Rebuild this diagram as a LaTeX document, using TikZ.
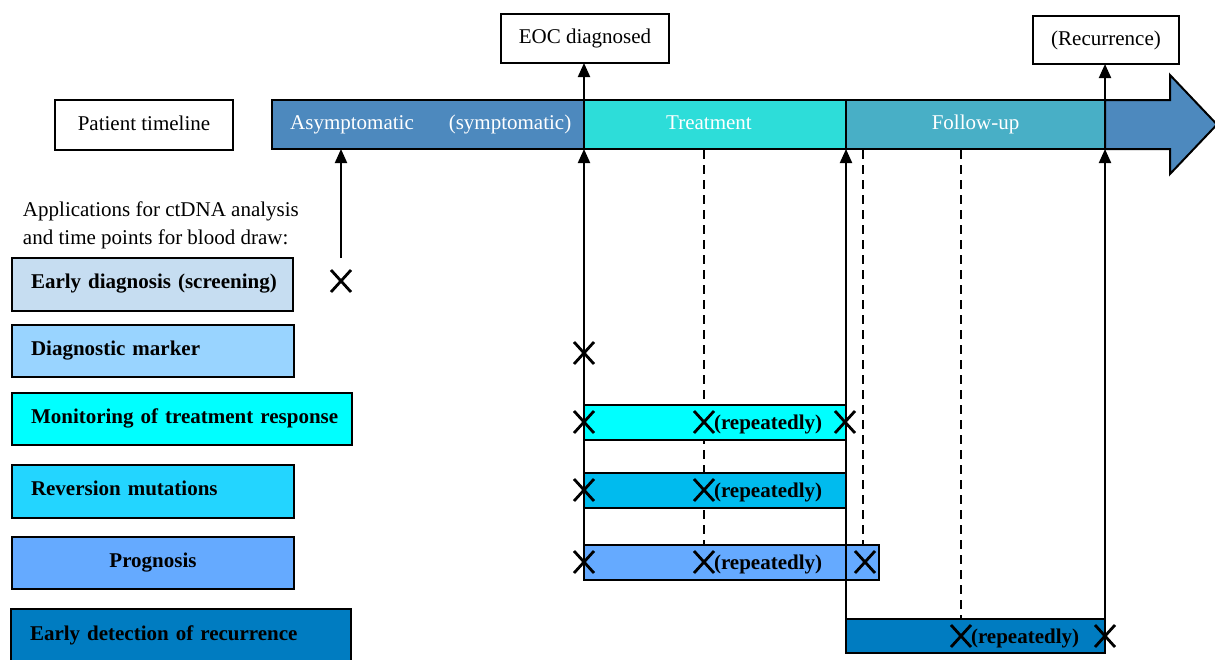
\documentclass[tikz,border=0pt]{standalone}
\usepackage{fontspec}
\setmainfont{Liberation Serif}
\usetikzlibrary{shapes.misc,arrows.meta,calc}
\definecolor{asymc}{HTML}{4D89BE}
\definecolor{treatc}{HTML}{2DDDD9}
\definecolor{followc}{HTML}{48AFC6}
\definecolor{earlyc}{HTML}{C6DDF1}
\definecolor{diagc}{HTML}{99D4FF}
\definecolor{monc}{HTML}{00FFFF}
\definecolor{revc}{HTML}{23D5FF}
\definecolor{revbarc}{HTML}{00BBEE}
\definecolor{progc}{HTML}{65AAFF}
\definecolor{recc}{HTML}{007CC1}
\begin{document}
\begin{tikzpicture}[x=0.5pt,y=-0.5pt,
  every node/.style={font=\fontsize{10.5pt}{14pt}\selectfont, outer sep=0pt},
  wbox/.style={draw, line width=1pt, fill=white, inner sep=0, text height=7pt, text depth=2pt},
  seg/.style={draw, line width=1pt, inner sep=0, minimum height=24.5pt, text=white, text height=7pt, text depth=2pt},
  appbox/.style={draw, line width=1pt, anchor=north west, inner sep=0, align=left, font=\fontsize{10.5pt}{14pt}\selectfont\bfseries, text height=8pt, text depth=4pt},
  barbox/.style={draw, line width=1pt, anchor=north west, inner sep=0, minimum height=17.5pt},
  xmark/.style={cross out, draw, line width=1.4pt, minimum width=10pt, minimum height=11pt, inner sep=0},
  rep/.style={anchor=base west, inner sep=0, font=\fontsize{10.5pt}{14pt}\selectfont\bfseries},
  arr/.style={line width=1pt, -{Triangle[width=6pt,length=7pt]}},
  dsh/.style={line width=1pt, dash pattern=on 4.5pt off 3pt}
]
\useasboundingbox (0,0) rectangle (1215,659);

% top labels
\node[wbox, minimum width=89pt, minimum height=25pt] (pt) at (144,125) {Patient timeline};
\node[wbox, minimum width=84pt, minimum height=24.5pt] (eoc) at (585,38.5) {EOC diagnosed};
\node[wbox, minimum width=73pt, minimum height=24pt] (rec) at (1106,40) {(Recurrence)};

% timeline arrow end
\draw[line width=1pt, fill=asymc] (1105,100) -- (1170,100) -- (1170,75) -- (1217,124.5) -- (1170,174) -- (1170,149) -- (1105,149) -- cycle;
% timeline segments
\node[seg, fill=asymc, minimum width=156pt] (asym) at (428,124.5) {};
\node[text=white, text height=7pt, text depth=2pt, inner sep=0] (asymt) at (352,124.5) {Asymptomatic};
\node[text=white, text height=7pt, text depth=2pt, inner sep=0] (symt) at (510,124.5) {(symptomatic)};
\node[seg, fill=treatc, minimum width=131pt] (treat) at (715,124.5) {\hspace*{-6pt}Treatment};
\node[seg, fill=followc, minimum width=129.5pt] (follow) at (975.5,124.5) {Follow-up};

% applications text
\node[anchor=base west, inner sep=0] (ap1) at (23,216) {Applications for ctDNA analysis};
\node[anchor=base west, inner sep=0] (ap2) at (23,244) {and time points for blood draw:};

% application boxes
\node[appbox, fill=earlyc, text width=140.5pt, minimum height=26.5pt] (b1) at (12,258) {\hspace*{9.5pt}Early diagnosis (screening)};
\node[appbox, fill=diagc, text width=141pt, minimum height=26pt] (b2) at (12,325) {\hspace*{9.5pt}Diagnostic marker};
\node[appbox, fill=monc, text width=170pt, minimum height=26pt] (b3) at (12,393) {\hspace*{9.5pt}Monitoring of treatment response};
\node[appbox, fill=revc, text width=141pt, minimum height=26.5pt] (b4) at (12,465) {\hspace*{9.5pt}Reversion mutations};
\node[appbox, fill=progc, text width=141pt, minimum height=26pt, align=center] (b5) at (12,537) {Prognosis};
\node[appbox, fill=recc, text width=170pt, minimum height=27pt] (b6) at (11,609) {\hspace*{9.5pt}Early detection of recurrence};

% X mark positions (nodes)
\node[xmark] (xe) at (341,281) {};
\node[xmark] (xd) at (584,353) {};

% dashed guide lines
\coordinate (d1a) at (704,150);
\coordinate (d1b) at (704,545);
\coordinate (d2a) at (863,150);
\coordinate (d2b) at (863,545);
\coordinate (d3a) at (961,150);
\coordinate (d3b) at (961,619);
\draw[dsh] (d1a) -- (d1b);
\draw[dsh] (d2a) -- (d2b);
\draw[dsh] (d3a) -- (d3b);

% bars
\node[barbox, fill=monc, minimum width=131pt] (mon) at (584,405) {};
\node[barbox, fill=revbarc, minimum width=131pt] (rev) at (584,473) {};
\node[barbox, fill=progc, minimum width=147.5pt] (prog) at (584,545) {};
\node[barbox, fill=recc, minimum width=129.5pt, minimum height=17pt] (recb) at (846,619) {};

% solid connectors
\draw[arr] ([yshift=6pt]xe.north) -- (xe.north |- asym.south);
\draw[arr] (prog.south west) -- (treat.south west);
\draw[arr] (treat.north west) -- (treat.north west |- eoc.south);
\draw[arr] (recb.south west) -- (follow.south west);
\draw[arr] (recb.south east) -- (follow.south east);
\draw[arr] (follow.north east) -- (follow.north east |- rec.south);

% X marks in bars
\node[xmark] (xm1) at (584,422) {};
\node[xmark] (xm2) at (704,422) {};
\node[xmark] (xm3) at (845,422) {};
\node[xmark] (xr1) at (584,490) {};
\node[xmark] (xr2) at (704,490) {};
\node[xmark] (xp1) at (584,562) {};
\node[xmark] (xp2) at (704,562) {};
\node[xmark] (xp3) at (865,562) {};
\node[xmark] (xc1) at (961,636) {};
\node[xmark] (xc2) at (1105,636) {};

% repeatedly labels
\node[rep] (rm) at (714,429) {(repeatedly)};
\node[rep] (rr) at (714,497) {(repeatedly)};
\node[rep] (rp) at (714,569) {(repeatedly)};
\node[rep] (rc) at (971,643) {(repeatedly)};
\end{tikzpicture}
\end{document}
